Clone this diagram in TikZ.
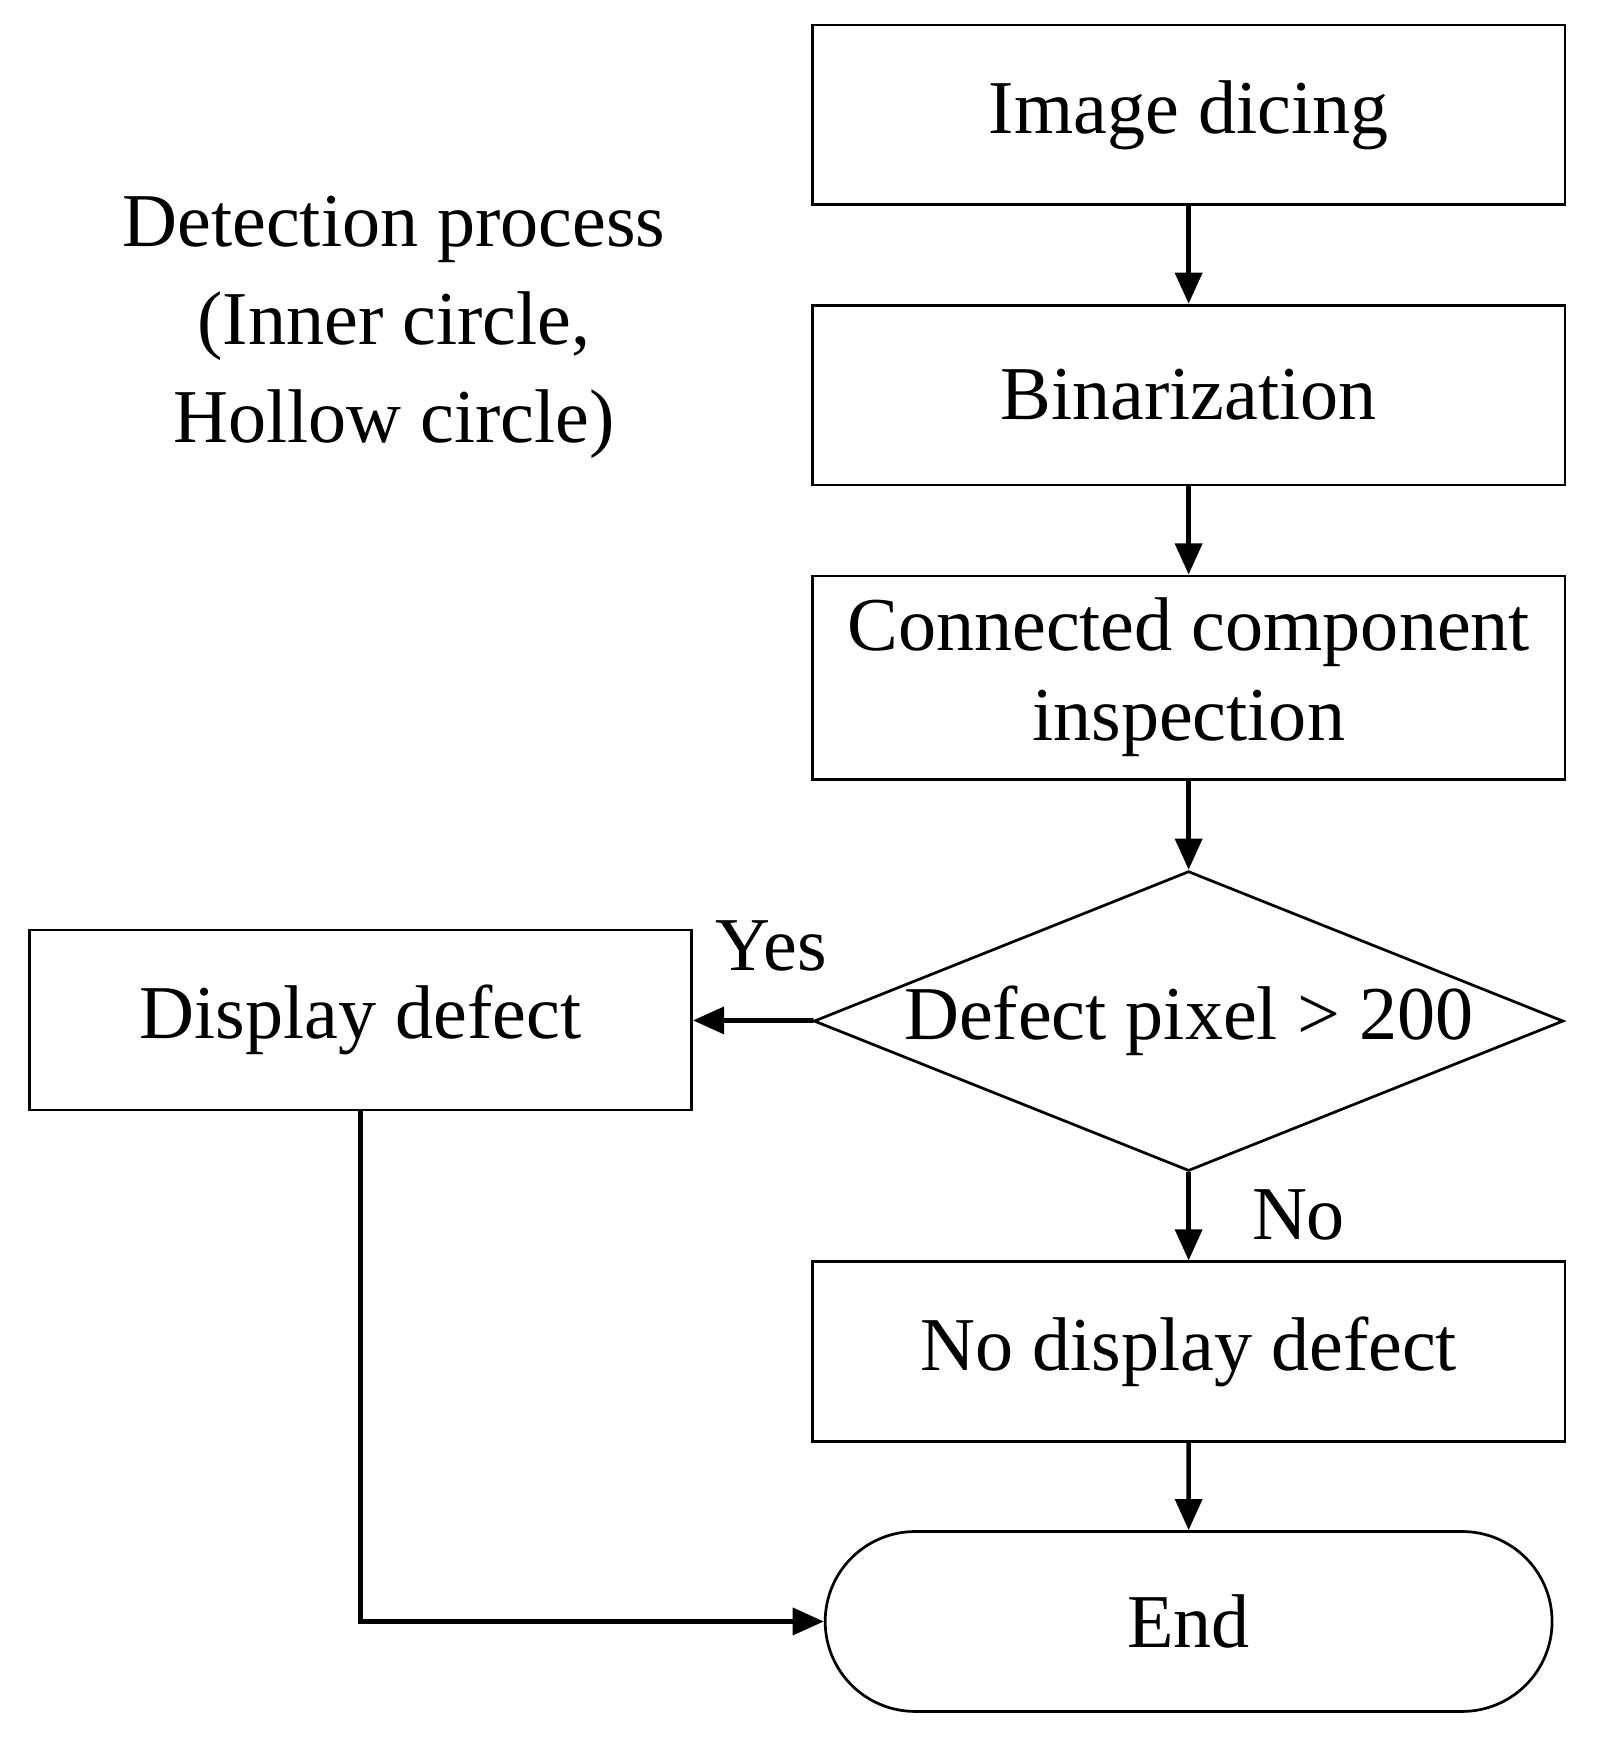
\documentclass[tikz,border=0pt]{standalone}
\usepackage{fontspec}
\setmainfont{Liberation Serif}
\usetikzlibrary{shapes.geometric,shapes.misc,arrows.meta}
\begin{document}
\begin{tikzpicture}[x=0.01cm,y=-0.01cm,
  box/.style={draw,line width=0.7pt,minimum width=6.78cm,minimum height=1.62cm,align=center,inner sep=0pt},
  arr/.style={line width=1.2pt,-{Triangle[length=0.28cm,width=0.24cm]}},
  every node/.style={font=\fontsize{19.5}{25}\selectfont}]
\useasboundingbox (0,0) rectangle (1440,1566);
\node[box] (dice) at (1071,103.5) {Image dicing};
\node[box] (bin) at (1071,356) {Binarization};
\node[box,minimum height=1.83cm] (cc) at (1071,610.5) {Connected component\\[-2pt]inspection};
\node[draw,line width=0.7pt,diamond,aspect=2.5,minimum width=6.75cm,minimum height=2.7cm,inner sep=0pt] (dec) at (1071,920) {Defect pixel > 200};
\node[box,minimum width=5.96cm] (disp) at (325,919) {Display defect};
\node[box] (nod) at (1071,1218) {No display defect};
\node[draw,line width=0.7pt,rounded rectangle,minimum width=6.78cm,minimum height=1.62cm] (end) at (1071,1461) {End};
\node[align=center] (title) at (355,295) {Detection process\\(Inner circle,\\Hollow circle)};
\node (yes) at (695,852) {Yes};
\node (no) at (1170,1095) {No};
\draw[arr] (dice) -- (bin);
\draw[arr] (bin) -- (cc);
\draw[arr] (cc) -- (dec);
\draw[arr] (dec) -- (disp);
\draw[arr] (dec) -- (nod);
\draw[arr] (nod) -- (end);
\draw[arr] (disp.south) |- (end.west);
\end{tikzpicture}
\end{document}
